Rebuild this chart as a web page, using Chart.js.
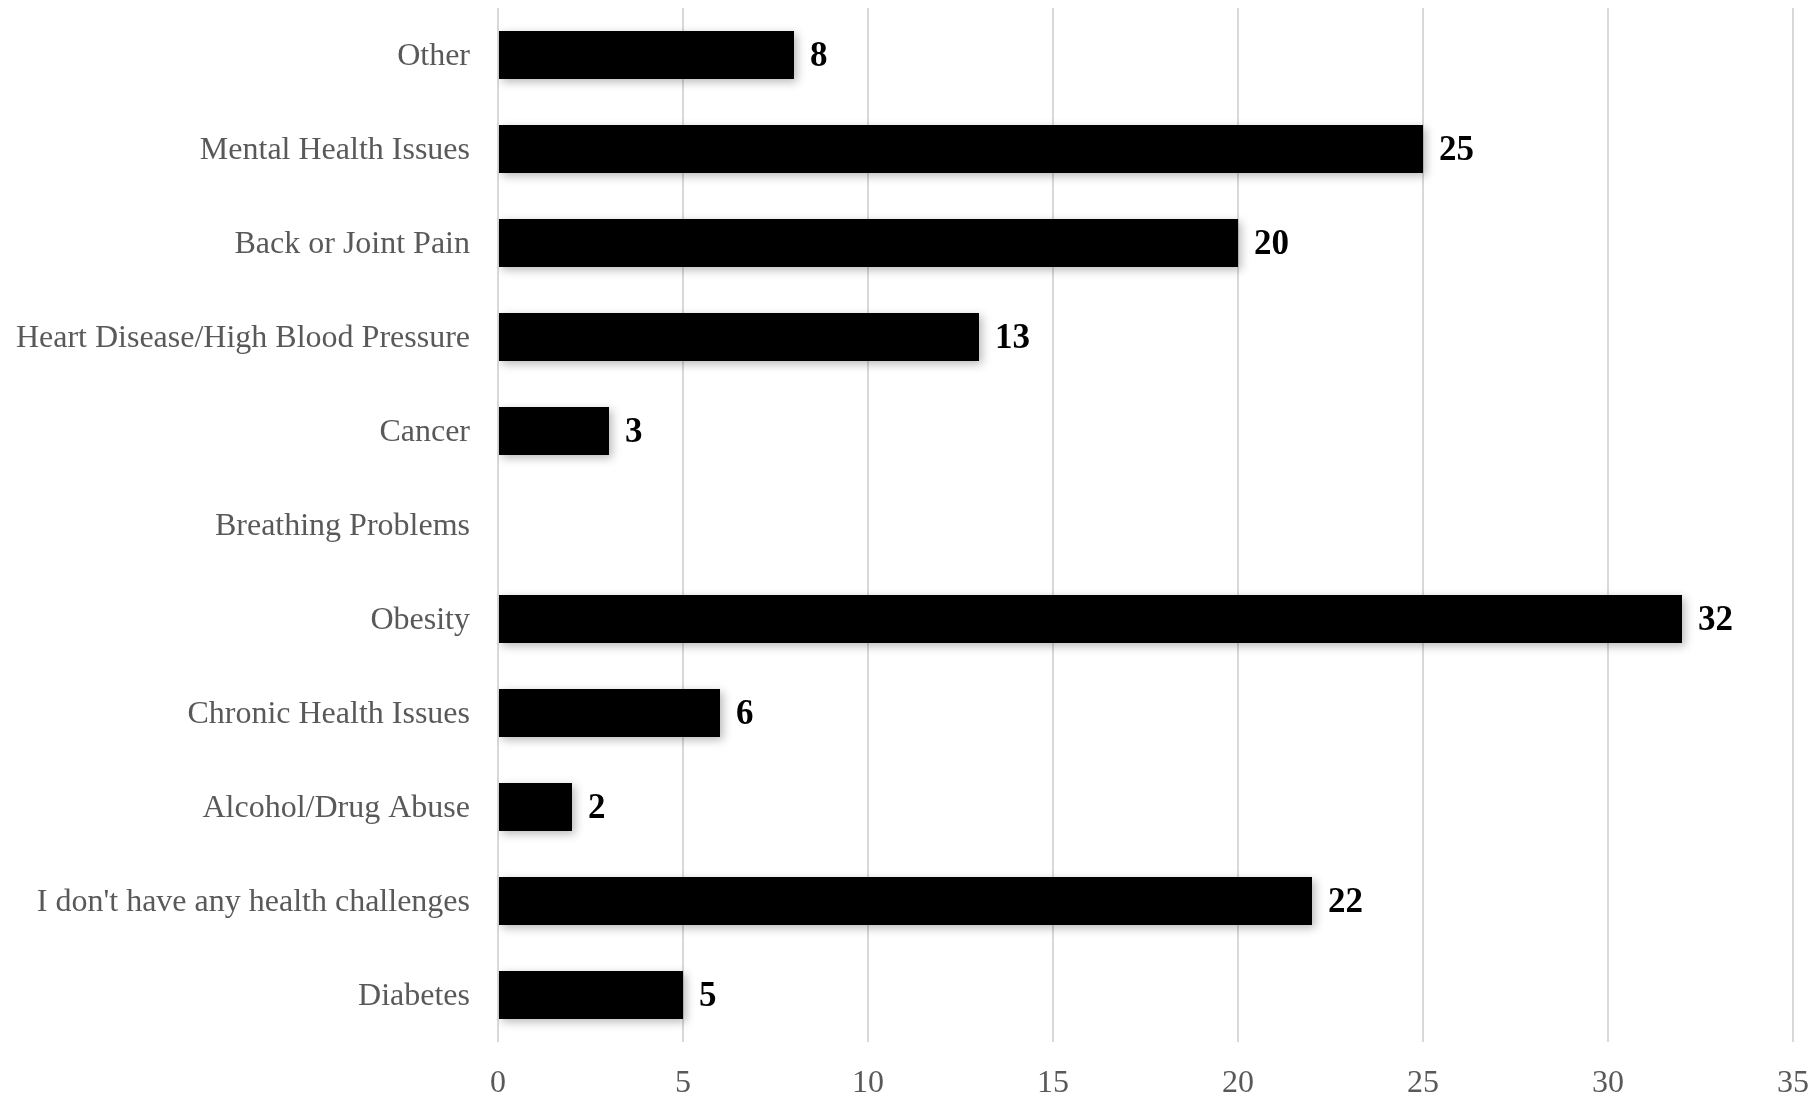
<!DOCTYPE html>
<html>
<head>
<meta charset="utf-8">
<script src="https://cdn.jsdelivr.net/npm/chart.js@4/dist/chart.umd.min.js"></script>
<style>
  html, body { margin: 0; padding: 0; background: #fff; }
  #wrap { width: 1814px; height: 1096px; }
</style>
</head>
<body>
<div id="wrap"><canvas id="chart"></canvas></div>
<script>
// categories top to bottom, as in the picture
const categories = ['Other', 'Mental Health Issues', 'Back or Joint Pain', 'Heart Disease/High Blood Pressure',
  'Cancer', 'Breathing Problems', 'Obesity', 'Chronic Health Issues', 'Alcohol/Drug Abuse',
  "I don't have any health challenges", 'Diabetes'];
const counts = [8, 25, 20, 13, 3, 0, 32, 6, 2, 22, 5];
const xTicks = [0, 5, 10, 15, 20, 25, 30, 35];

const serif = '"Liberation Serif", "Times New Roman", serif';

// soft shadow behind the bars
const barShadow = {
  id: 'barShadow',
  beforeDatasetsDraw(chart) { const c = chart.ctx; c.save(); c.shadowColor = 'rgba(0,0,0,0.28)'; c.shadowBlur = 9; c.shadowOffsetX = 3; c.shadowOffsetY = 3; },
  afterDatasetsDraw(chart) { chart.ctx.restore(); }
};

// bold value labels at the end of the bars
const valueLabels = {
  id: 'valueLabels',
  afterDatasetsDraw(chart) {
    const c = chart.ctx, meta = chart.getDatasetMeta(0);
    c.save();
    c.font = 'bold 35px ' + serif; c.fillStyle = '#000'; c.textAlign = 'left'; c.textBaseline = 'middle';
    meta.data.forEach((bar, i) => { if (counts[i] > 0) c.fillText(String(counts[i]), bar.x + 16, bar.y + 2); });
    c.restore();
  }
};

new Chart(document.getElementById('chart'), {
  type: 'bar',
  data: { labels: categories, datasets: [{ data: counts, backgroundColor: '#000', borderWidth: 0, barPercentage: 0.51, categoryPercentage: 1 }] },
  options: {
    indexAxis: 'y', responsive: true, maintainAspectRatio: false, animation: false,
    layout: { padding: { top: 8, right: 21, left: 0, bottom: 0 } },
    plugins: { legend: { display: false }, tooltip: { enabled: false } },
    scales: {
      x: {
        min: 0, max: 35,
        afterBuildTicks: s => { s.ticks = xTicks.map(v => ({ value: v })); },
        afterFit: s => { s.height = 54; s.paddingLeft = 0; s.paddingRight = 0; },
        grid: { color: '#d9d9d9', lineWidth: 2, drawTicks: false },
        border: { display: false },
        ticks: { color: '#595959', font: { family: serif, size: 32 }, padding: 22 }
      },
      y: {
        afterFit: s => { s.width = 498; s.paddingTop = 0; s.paddingBottom = 0; },
        grid: { display: false, drawTicks: false },
        border: { display: false },
        ticks: { color: '#595959', font: { family: serif, size: 32 }, padding: 28, labelOffset: 2 }
      }
    }
  },
  plugins: [barShadow, valueLabels]
});
</script>
</body>
</html>
